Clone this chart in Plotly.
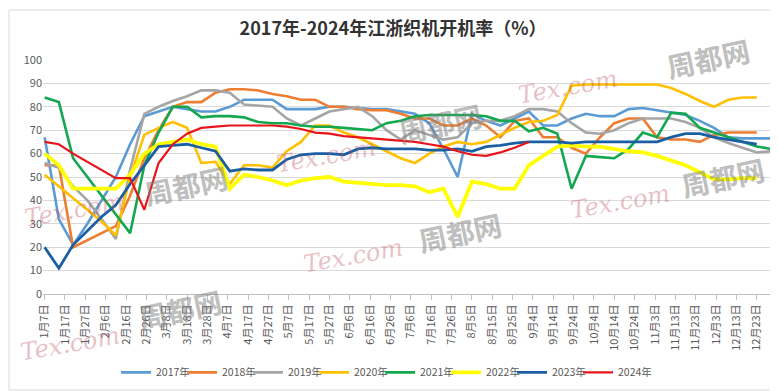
import plotly.graph_objects as go

# x positions: day of year (weekly points), tick labels every 10 days
week_days = [7 + 7 * k for k in range(52)]
tick_days = list(range(7, 358, 10))
month_days = [31, 28, 31, 30, 31, 30, 31, 31, 30, 31, 30, 31]


def day_label(d):
    m = 0
    while d > month_days[m]:
        d -= month_days[m]
        m += 1
    return f"{m + 1}月{d}日"


tick_labels = [day_label(d) for d in tick_days]

years = ["2017年", "2018年", "2019年", "2020年", "2021年", "2022年", "2023年", "2024年"]

v2017 = [67, 32, 21, 30, 40, 50, 64, 76, 78, 80, 79, 78, 78, 80, 83, 83, 83, 79, 79, 79,
         80, 80, 79.5, 79, 79, 78, 77, 73, 62, 50, 77, 74, 72, 75, 78, 72, 72, 75, 77, 76,
         76, 79, 79.5, 78.5, 77.5, 76.5, 74, 71, 67, 66.5, 66.5, 66.5]
v2018 = [55, 55, 20, 23, 26, 29, 42, 58, 70, 80, 82, 82, 86, 87.5, 87.5, 87, 85.5, 84.5, 83, 83,
         80, 80, 79, 78.5, 78.5, 77, 75, 75, 72, 72, 75, 72, 67, 74, 75, 67, 67, 62.5, 60, 67,
         73, 75, 75, 67, 66, 66, 65, 68, 69, 69, 69, None]
v2019 = [56, 54, 46, 40, 32, 23.5, 53, 77, 80, 82.5, 84.5, 87, 87, 86, 81, 80.5, 80, 75, 72, 75,
         78, 79, 80, 76, 70, 66, 70, 68, 66, 67, 73, 74, 74, 76, 79, 79, 78, 73, 69, 68.5,
         70, 73, 75, 75, 75, 73.5, 71, 67, 64.5, 62.5, 60.5, 61]
v2020 = [51, 46, 41, 36, 31, 25, 50, 68, 71, 73.5, 71, 56, 56.5, 47, 55, 55, 54, 61, 65, 72,
         72, 69, 67, 64, 61, 58, 56, 60, 63, 65, 64, 65, 68, 71, 73.5, 74, 76.5, 89, 89.5, 89.5,
         89.5, 89.5, 89.5, 89.5, 88, 85.5, 82.5, 80, 83, 84, 84, None]
v2021 = [84, 82, 58, 50, 42, 34, 26, 55, 69, 80, 80, 75.5, 76, 76, 75.5, 73.5, 73, 73, 72, 71.5,
         71.5, 71, 70.5, 70, 73, 74, 76, 76.5, 76.5, 76.5, 76.5, 76, 74, 74, 69.5, 71, 68.5, 45, 59, 58.5,
         58, 62, 69, 67, 77.5, 77, 71, 69, 67, 65, 63, 62]
v2022 = [60, 55, 45, 45, 45, 45, 51, 60, 64, 65, 66, 64, 63, 45, 51, 50, 48.5, 46.5, 48.5, 49.5,
         50, 48, 47.5, 47, 46.5, 46.5, 46, 43.5, 45, 33, 48, 47, 45, 45, 55, 59, 63, 63.5, 63, 63,
         62, 61, 60.5, 59, 57, 55, 52, 49, 49, 49.5, 49.5, None]
v2023 = [20, 11, 21, 27, 33, 38, 47, 55, 63, 63.5, 64, 62.5, 61, 52.5, 53.5, 53, 53, 57.5, 59.5, 60,
         60, 59.5, 62, 62.5, 62, 62, 62, 61.5, 61.5, 62, 61, 63, 63.5, 64.5, 65, 65, 65, 64.5, 65, 65,
         65, 65, 65, 65, 67, 68.5, 68.5, 67, 66, 65, 64, None]
v2024 = [65, 64, 60, 56.5, 53, 49.5, 49.5, 36, 56, 64, 68.5, 71, 71.5, 72, 72, 72, 72, 71.5, 70.5, 69,
         68.5, 67.5, 67, 66.5, 66, 65.5, 65, 64, 63, 61, 59.5, 59, 60.5, 62.5, 65]

series = [v2017, v2018, v2019, v2020, v2021, v2022, v2023, v2024]
colors = ["#5B9BD5", "#ED7D31", "#A5A5A5", "#FFC000", "#13A84F", "#FFFF00", "#1B5FA3", "#E8141B"]
widths = [2.6, 2.6, 2.6, 2.6, 2.6, 3.8, 2.8, 2.2]

# watermark texts (decorative, as in the reference image)
wm_gray_text = "周都网"
wm_gray_pos = [(178, 180), (172, 306), (432, 116), (452, 228), (715, 172), (700, 50)]
wm_pink_text = "Tex.com"
wm_pink_pos = [(66, 205), (62, 342), (345, 252), (318, 150), (560, 80), (612, 197)]

FONT = "Noto Sans CJK SC"
L, R, T, B, W, H = 35, 15, 52, 100, 778, 391
PW, PH = W - L - R, H - T - B


def px_to_paper(px, py):
    return (px - L) / PW, (H - B - py) / PH


fig = go.Figure()
for name, vals, col, w in zip(years, series, colors, widths):
    fig.add_trace(go.Scatter(
        x=week_days[:len(vals)], y=vals, name=name, mode="lines",
        line=dict(color=col, width=w), connectgaps=False,
    ))
# empty spacer entry so the last legend label is not clipped
fig.add_trace(go.Scatter(x=[None], y=[None], name=" ", mode="lines",
                         line=dict(color="rgba(0,0,0,0)", width=1), hoverinfo="skip"))

annotations = []
for (px, py) in wm_gray_pos:
    xp, yp = px_to_paper(px, py)
    annotations.append(dict(
        x=xp, y=yp, xref="paper", yref="paper", xanchor="center", yanchor="middle",
        text=f"<b>{wm_gray_text}</b>",
        showarrow=False, textangle=-12, opacity=0.5,
        font=dict(family=FONT, size=28, color="#808080")))
for (px, py) in wm_pink_pos:
    xp, yp = px_to_paper(px, py)
    annotations.append(dict(
        x=xp, y=yp, xref="paper", yref="paper", xanchor="center", yanchor="middle",
        text=f"<i>{wm_pink_text}</i>",
        showarrow=False, textangle=-10, opacity=0.35,
        font=dict(family="DejaVu Serif", size=24, color="#C0505E")))

x0, y0 = px_to_paper(1, 389)
x1, y1 = px_to_paper(777, 1)

fig.update_layout(
    width=W, height=H,
    margin=dict(l=L, r=R, t=T, b=B),
    paper_bgcolor="white", plot_bgcolor="white",
    title=dict(text="<b>2017年-2024年江浙织机开机率（%）</b>", x=385 / W, xanchor="center",
               y=1 - 21 / H, yanchor="middle",
               font=dict(family=FONT, size=18, color="#333333")),
    font=dict(family=FONT, size=11, color="#595959"),
    showlegend=True,
    legend=dict(orientation="h", x=(405 - L) / PW, xanchor="center",
                y=(H - B - 371) / PH, yanchor="middle",
                font=dict(family=FONT, size=10.5, color="#595959"),
                entrywidth=21, entrywidthmode="pixels", itemwidth=30,
                bgcolor="rgba(0,0,0,0)"),
    annotations=annotations,
    shapes=[dict(type="rect", xref="paper", yref="paper", x0=x0, y0=y0, x1=x1, y1=y1,
                 line=dict(color="#D9D9D9", width=1), fillcolor="rgba(0,0,0,0)", layer="below")],
)
fig.update_xaxes(
    range=[6.2, 364], tickmode="array", tickvals=tick_days, ticktext=tick_labels,
    tickangle=-90, ticks="outside", ticklen=5, tickcolor="#BFBFBF",
    showgrid=False, showline=True, linecolor="#BFBFBF", linewidth=1,
    zeroline=False, tickfont=dict(family=FONT, size=11, color="#595959"),
)
fig.update_yaxes(
    range=[0, 100], tickmode="array", tickvals=list(range(0, 101, 10)),
    showgrid=True, gridcolor="#D9D9D9", gridwidth=1, zeroline=False,
    showline=False, ticks="", tickfont=dict(family=FONT, size=11, color="#595959"),
)

fig.write_html("out.html")
